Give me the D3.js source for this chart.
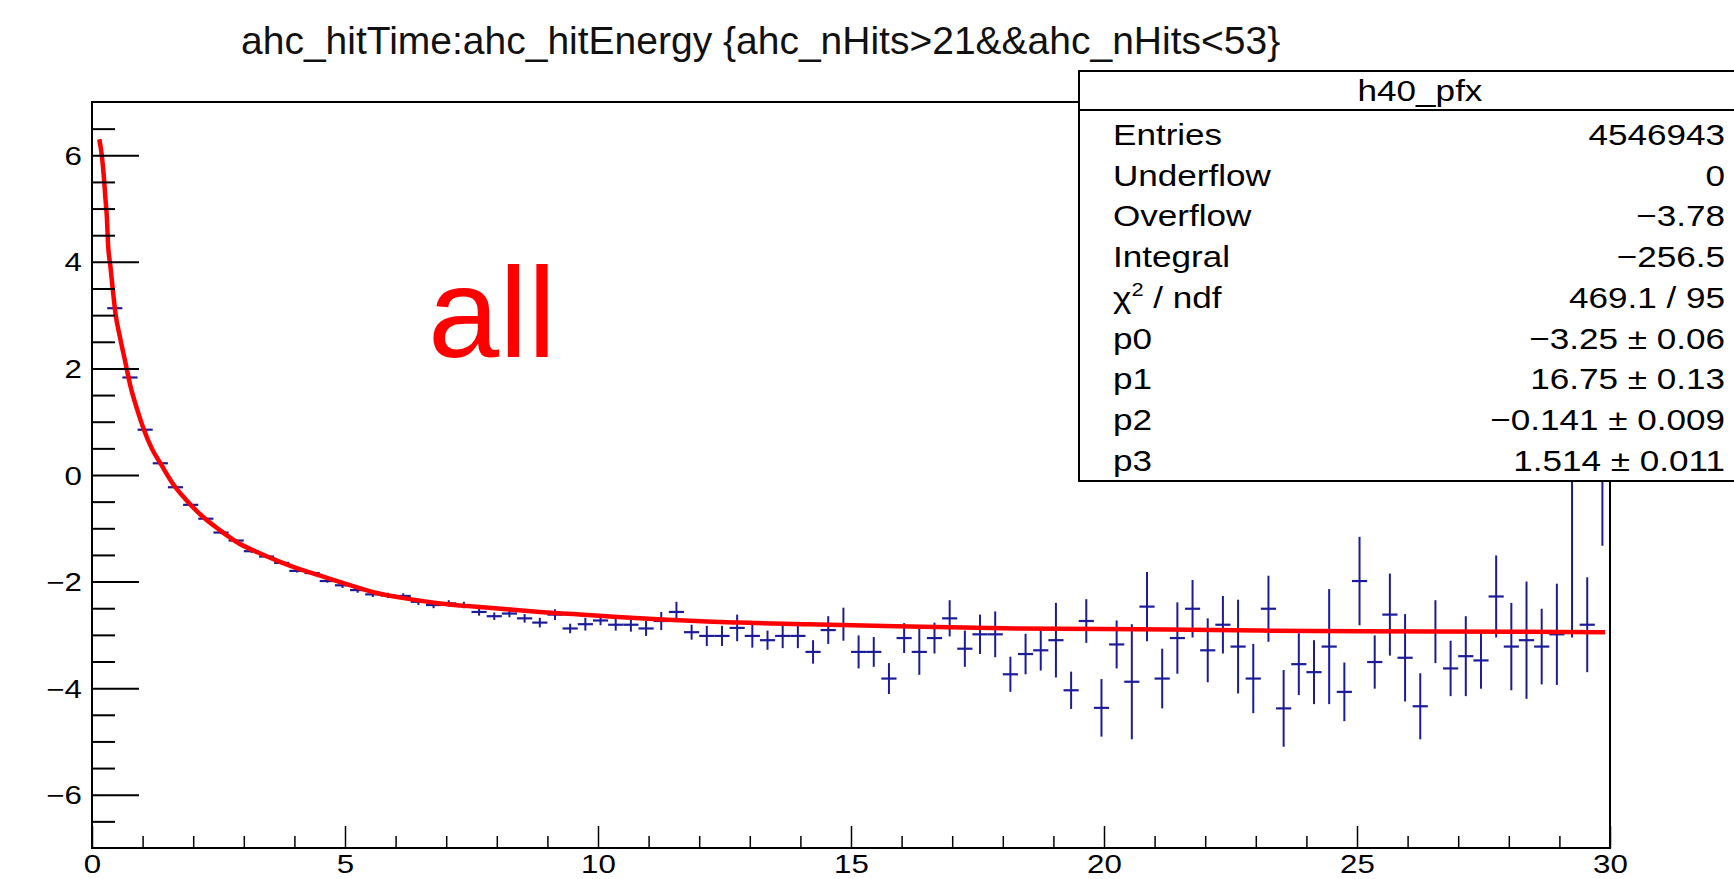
<!DOCTYPE html>
<html>
<head>
<meta charset="utf-8">
<script src="https://cdnjs.cloudflare.com/ajax/libs/d3/7.8.5/d3.min.js"></script>
<style>
  html, body { margin: 0; padding: 0; background: #ffffff; }
  svg { display: block; }
  text { font-family: "Liberation Sans", Arial, Helvetica, sans-serif; }
</style>
</head>
<body>
<svg id="chart" width="1734" height="879"></svg>
<script>
// ---------------- data ----------------
const titleText = "ahc_hitTime:ahc_hitEnergy {ahc_nHits>21&&ahc_nHits<53}";
const labelText = "all";

const binCenters = [
  0.15, 0.45, 0.75, 1.05, 1.35, 1.65, 1.95, 2.25, 2.55, 2.85,
  3.15, 3.45, 3.75, 4.05, 4.35, 4.65, 4.95, 5.25, 5.55, 5.85,
  6.15, 6.45, 6.75, 7.05, 7.35, 7.65, 7.95, 8.25, 8.55, 8.85,
  9.15, 9.45, 9.75, 10.05, 10.35, 10.65, 10.95, 11.25, 11.55, 11.85,
  12.15, 12.45, 12.75, 13.05, 13.35, 13.65, 13.95, 14.25, 14.55, 14.85,
  15.15, 15.45, 15.75, 16.05, 16.35, 16.65, 16.95, 17.25, 17.55, 17.85,
  18.15, 18.45, 18.75, 19.05, 19.35, 19.65, 19.95, 20.25, 20.55, 20.85,
  21.15, 21.45, 21.75, 22.05, 22.35, 22.65, 22.95, 23.25, 23.55, 23.85,
  24.15, 24.45, 24.75, 25.05, 25.35, 25.65, 25.95, 26.25, 26.55, 26.85,
  27.15, 27.45, 27.75, 28.05, 28.35, 28.65, 28.95, 29.25, 29.55, 29.85
];
const binHalfWidth = 0.15;

const profileMean = [
  null, 3.13, 1.83, 0.85, 0.22, -0.23, -0.56, -0.82, -1.08, -1.23,
  -1.43, -1.53, -1.65, -1.80, -1.84, -1.99, -2.07, -2.16, -2.24, -2.26,
  -2.27, -2.38, -2.44, -2.41, -2.44, -2.57, -2.65, -2.60, -2.69, -2.77,
  -2.62, -2.88, -2.80, -2.73, -2.81, -2.81, -2.88, -2.74, -2.57, -2.95,
  -3.02, -3.02, -2.87, -3.02, -3.10, -3.02, -3.02, -3.32, -2.91, -2.80,
  -3.32, -3.32, -3.82, -3.06, -3.32, -3.06, -2.69, -3.26, -2.99, -2.99,
  -3.74, -3.36, -3.29, -3.10, -4.04, -2.74, -4.37, -3.18, -3.88, -2.47,
  -3.82, -3.06, -2.51, -3.29, -2.81, -3.22, -3.82, -2.51, -4.38, -3.55,
  -3.70, -3.22, -4.07, -1.99, -3.51, -2.62, -3.43, -4.34, -2.94, -3.63,
  -3.40, -3.48, -2.28, -3.22, -3.10, -3.22, -2.99, 0.50, -2.81, 1.50
];

const profileErr = [
  0, 0.03, 0.03, 0.03, 0.03, 0.03, 0.03, 0.03, 0.03, 0.03,
  0.03, 0.03, 0.03, 0.03, 0.03, 0.03, 0.05, 0.05, 0.05, 0.05,
  0.05, 0.06, 0.06, 0.06, 0.06, 0.07, 0.07, 0.07, 0.08, 0.09,
  0.10, 0.09, 0.12, 0.09, 0.11, 0.13, 0.14, 0.17, 0.19, 0.14,
  0.19, 0.19, 0.25, 0.22, 0.18, 0.23, 0.23, 0.22, 0.26, 0.31,
  0.31, 0.28, 0.29, 0.28, 0.43, 0.29, 0.34, 0.34, 0.37, 0.43,
  0.33, 0.38, 0.38, 0.70, 0.35, 0.41, 0.54, 0.45, 1.08, 0.65,
  0.56, 0.67, 0.54, 0.60, 0.54, 0.88, 0.65, 0.62, 0.72, 0.58,
  0.60, 1.08, 0.55, 0.83, 0.50, 0.77, 0.82, 0.62, 0.59, 0.52,
  0.75, 0.53, 0.77, 0.82, 1.10, 0.71, 0.95, 3.55, 0.89, 2.83
];

// fit curve
const fitX = [
  0.144, 0.184, 0.231, 0.263, 0.296, 0.316, 0.362, 0.409, 0.460, 0.559,
  0.658, 0.757, 0.889, 1.022, 1.186, 1.383, 1.581, 1.844, 2.174, 2.504,
  2.899, 3.294, 3.690, 4.085, 4.480, 4.875, 5.56, 6.22, 6.88, 7.54,
  8.20, 8.85, 9.51, 10.17, 10.83, 11.49, 12.15, 12.81, 14.05, 15.9,
  18.27, 21.3, 23.1, 26.5, 29.9
];
const fitY = [
  6.30, 6.07, 5.63, 5.22, 4.80, 4.35, 3.93, 3.50, 3.06, 2.56,
  2.12, 1.68, 1.24, 0.86, 0.49, 0.17, -0.14, -0.45, -0.77, -1.02,
  -1.28, -1.46, -1.62, -1.76, -1.88, -2.00, -2.20, -2.32, -2.41, -2.47,
  -2.52, -2.57, -2.61, -2.65, -2.69, -2.72, -2.75, -2.77, -2.80, -2.84,
  -2.88, -2.90, -2.92, -2.935, -2.95
];

const xTicksMajor = [0, 5, 10, 15, 20, 25, 30];
const xTicksMinor = [1, 2, 3, 4, 6, 7, 8, 9, 11, 12, 13, 14, 16, 17, 18, 19, 21, 22, 23, 24, 26, 27, 28, 29];
const yTicksMajor = [-6, -4, -2, 0, 2, 4, 6];
const yTicksMinor = [-6.5, -5.5, -5, -4.5, -3.5, -3, -2.5, -1.5, -1, -0.5, 0.5, 1, 1.5, 2.5, 3, 3.5, 4.5, 5, 5.5, 6.5];

const statsName = "h40_pfx";
const statsLabels = ["Entries", "Underflow", "Overflow", "Integral", "CHI2", "p0", "p1", "p2", "p3"];
const statsValues = ["4546943", "0", "\u22123.78", "\u2212256.5", "469.1 / 95",
  "\u22123.25 \u00b1 0.06", "16.75 \u00b1 0.13", "\u22120.141 \u00b1 0.009", "1.514 \u00b1 0.011"];

// ---------------- layout ----------------
const frame = { left: 92, right: 1610, top: 102, bottom: 848 };
const svg = d3.select("#chart");

const x = d3.scaleLinear().domain([0, 30]).range([frame.left, frame.right]);
const y = d3.scaleLinear().domain([-7, 7]).range([frame.bottom, frame.top]);

const blue = "#1c1c9a";
const red = "#ff0000";

// title
svg.append("text")
  .attr("x", 241).attr("y", 54)
  .attr("font-size", 39).attr("fill", "#111")
  .text(titleText);

// clip for the plot area
svg.append("clipPath").attr("id", "plotclip")
  .append("rect")
  .attr("x", frame.left).attr("y", frame.top)
  .attr("width", frame.right - frame.left).attr("height", frame.bottom - frame.top);

const plot = svg.append("g").attr("clip-path", "url(#plotclip)");

// data points with error bars
const pts = binCenters.map((c, i) => ({ c, v: profileMean[i], e: profileErr[i] }))
  .filter(d => d.v !== null);

plot.selectAll("line.ey").data(pts).join("line")
  .attr("class", "ey")
  .attr("x1", d => x(d.c)).attr("x2", d => x(d.c))
  .attr("y1", d => y(d.v - d.e)).attr("y2", d => y(d.v + d.e))
  .attr("stroke", blue).attr("stroke-width", 2);

plot.selectAll("line.ex").data(pts).join("line")
  .attr("class", "ex")
  .attr("x1", d => x(d.c - binHalfWidth)).attr("x2", d => x(d.c + binHalfWidth))
  .attr("y1", d => y(d.v)).attr("y2", d => y(d.v))
  .attr("stroke", blue).attr("stroke-width", 2.2);

// fit curve
const fitPts = fitX.map((v, i) => [v, fitY[i]]);
plot.append("path")
  .datum(fitPts)
  .attr("fill", "none")
  .attr("stroke", red)
  .attr("stroke-width", 4.5)
  .attr("stroke-linejoin", "round")
  .attr("d", d3.line().x(d => x(d[0])).y(d => y(d[1])).curve(d3.curveMonotoneX));

// "all" label
svg.append("text")
  .attr("x", 428).attr("y", 357)
  .attr("font-size", 128).attr("fill", red)
  .text(labelText);

// axes
const tickFontSize = 25;
const tickStretch = 1.25;

const yMajor = d3.axisLeft(y).tickValues(yTicksMajor).tickSize(-47).tickSizeOuter(0)
  .tickPadding(10).tickFormat(d => d < 0 ? "\u2212" + Math.abs(d) : String(d));
const gy = svg.append("g").attr("transform", `translate(${frame.left},0)`).call(yMajor);
gy.select(".domain").remove();
gy.selectAll(".tick line").attr("stroke", "#000").attr("stroke-width", 2);
gy.selectAll(".tick text")
  .attr("x", null).attr("dy", null)
  .attr("transform", `translate(-10, ${tickFontSize * 0.36}) scale(${tickStretch},1)`)
  .attr("text-anchor", "end")
  .attr("font-size", tickFontSize).attr("font-family", "Liberation Sans, Arial, sans-serif")
  .attr("fill", "#000");

const yMinor = d3.axisLeft(y).tickValues(yTicksMinor).tickSize(-23).tickSizeOuter(0).tickFormat("");
const gym = svg.append("g").attr("transform", `translate(${frame.left},0)`).call(yMinor);
gym.select(".domain").remove();
gym.selectAll(".tick line").attr("stroke", "#000").attr("stroke-width", 2);

const xMajor = d3.axisBottom(x).tickValues(xTicksMajor).tickSize(-22).tickSizeOuter(0)
  .tickPadding(10).tickFormat(d3.format("d"));
const gx = svg.append("g").attr("transform", `translate(0,${frame.bottom})`).call(xMajor);
gx.select(".domain").remove();
gx.selectAll(".tick line").attr("stroke", "#000").attr("stroke-width", 1.5);
gx.selectAll(".tick text")
  .attr("y", null).attr("dy", null)
  .attr("transform", `translate(0, 25) scale(${tickStretch},1)`)
  .attr("text-anchor", "middle")
  .attr("font-size", tickFontSize).attr("font-family", "Liberation Sans, Arial, sans-serif")
  .attr("fill", "#000");

const xMinor = d3.axisBottom(x).tickValues(xTicksMinor).tickSize(-12).tickSizeOuter(0).tickFormat("");
const gxm = svg.append("g").attr("transform", `translate(0,${frame.bottom})`).call(xMinor);
gxm.select(".domain").remove();
gxm.selectAll(".tick line").attr("stroke", "#000").attr("stroke-width", 1.5);

// frame
svg.append("rect")
  .attr("x", frame.left).attr("y", frame.top)
  .attr("width", frame.right - frame.left).attr("height", frame.bottom - frame.top)
  .attr("fill", "none").attr("stroke", "#000").attr("stroke-width", 2);

// stats box
const box = { left: 1079, top: 71, right: 1762, bottom: 481, header: 110 };
const statFont = 30;
const statStretch = 1.17;
const gs = svg.append("g");
gs.append("rect")
  .attr("x", box.left).attr("y", box.top)
  .attr("width", box.right - box.left).attr("height", box.bottom - box.top)
  .attr("fill", "#fff").attr("stroke", "#000").attr("stroke-width", 2);
gs.append("line")
  .attr("x1", box.left).attr("x2", box.right)
  .attr("y1", box.header).attr("y2", box.header)
  .attr("stroke", "#000").attr("stroke-width", 2);
gs.append("text")
  .attr("transform", `translate(1420,101) scale(${statStretch},1)`)
  .attr("text-anchor", "middle").attr("font-size", statFont).attr("fill", "#000")
  .text(statsName);

const rowY = d3.scaleLinear().domain([0, statsLabels.length - 1]).range([145, 470.7]);
statsLabels.forEach((lab, i) => {
  const t = gs.append("text")
    .attr("transform", `translate(1113,${rowY(i)}) scale(${statStretch},1)`)
    .attr("font-size", statFont).attr("fill", "#000");
  if (lab === "CHI2") {
    t.append("tspan").text("\u03c7");
    t.append("tspan").attr("font-size", statFont * 0.62).attr("dy", -12).text("2");
    t.append("tspan").attr("dy", 12).text(" / ndf");
  } else {
    t.text(lab);
  }
  gs.append("text")
    .attr("transform", `translate(1725,${rowY(i)}) scale(${statStretch},1)`)
    .attr("text-anchor", "end")
    .attr("font-size", statFont).attr("fill", "#000")
    .text(statsValues[i]);
});
</script>
</body>
</html>
